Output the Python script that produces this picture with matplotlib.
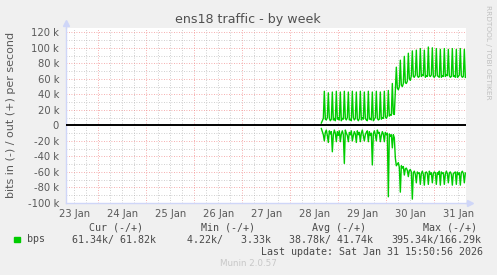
import matplotlib
matplotlib.use("Agg")
import matplotlib.pyplot as plt
import matplotlib.dates as mdates
from matplotlib.ticker import MultipleLocator, FuncFormatter
from matplotlib.patches import Rectangle
import numpy as np
import pandas as pd

# muestras cada 30 min desde 2026-01-28 15:30 (en kbit/s)
inicio = "2026-01-28 15:30"
paso = "30min"

bps_out = [
    3, 6, 9, 44,   8, 7, 10, 42,   9, 6, 8, 43,   7, 9, 6, 44,
    8, 10, 7, 43,  6, 9, 8, 44,    9, 7, 10, 43,  7, 8, 6, 44,
    10, 7, 9, 43,  8, 6, 9, 44,    7, 10, 8, 43,  9, 7, 6, 44,
    8, 9, 7, 43,   6, 8, 10, 44,   9, 7, 8, 43,   8, 10, 9, 44,
    11, 9, 12, 45, 12, 14, 13, 54, 15, 14, 46, 75, 48, 46, 50, 84,
    52, 50, 54, 89, 55, 54, 57, 93, 60, 58, 64, 96, 63, 62, 65, 97,
    64, 62, 63, 99, 63, 65, 64, 97, 62, 64, 63, 101, 64, 63, 65, 100,
    63, 62, 64, 99, 64, 63, 62, 98, 62, 64, 63, 99, 63, 65, 64, 98,
    64, 62, 63, 99, 63, 64, 62, 98, 62, 63, 65, 99, 64, 62, 63, 98,
    61.82,
]

bps_in = [
    4, 8, 12, 20,  9, 6, 13, 22,   7, 11, 8, 34,  12, 6, 10, 21,
    8, 13, 7, 21,  11, 7, 12, 49,  6, 10, 13, 21, 9, 12, 7, 20,
    13, 8, 11, 22, 7, 12, 9, 21,   10, 6, 13, 20, 12, 9, 7, 21,
    8, 13, 10, 51, 11, 7, 12, 20,  6, 10, 9, 21,  13, 8, 11, 21,
    9, 12, 10, 92, 11, 14, 12, 29, 12, 16, 42, 52, 50, 48, 54, 86,
    52, 55, 53, 64, 56, 55, 58, 66, 58, 57, 60, 95, 61, 59, 63, 74,
    60, 62, 61, 76, 62, 59, 63, 77, 61, 60, 62, 76, 59, 63, 61, 74,
    62, 60, 61, 76, 61, 63, 59, 77, 60, 62, 61, 76, 63, 59, 62, 74,
    61, 60, 63, 77, 62, 61, 60, 76, 60, 63, 61, 77, 61, 59, 62, 74,
    61.34,
]

leyenda_cab = ["Cur (-/+)", "Min (-/+)", "Avg (-/+)", "Max (-/+)"]
leyenda_val = ["61.34k/ 61.82k", "4.22k/   3.33k", "38.78k/ 41.74k", "395.34k/166.29k"]

W, H = 497, 275
verde = "#00CC00"
gris_txt = "#5A5A5A"
eje = "#CFD6F8"

fig = plt.figure(figsize=(W / 100, H / 100), dpi=100, facecolor="#F0F0F0")
ax = fig.add_axes([66 / W, 1 - 203 / H, 400 / W, 175 / H])
ax.set_facecolor("white")

t = pd.date_range(inicio, periods=len(bps_out), freq=paso)
ax.plot(t, np.array(bps_out) * 1000, color=verde, lw=1.0, zorder=3)
ax.plot(t, -np.array(bps_in) * 1000, color=verde, lw=1.0, zorder=3)
ax.axhline(0, color="black", lw=1.4, zorder=4)

ax.set_xlim(pd.Timestamp("2026-01-23 07:50"), pd.Timestamp("2026-01-31 15:50"))
ax.set_ylim(-100000, 125500)

# rejilla
ax.xaxis.set_major_locator(mdates.DayLocator())
ax.xaxis.set_major_formatter(FuncFormatter(lambda v, p: ""))
ax.xaxis.set_minor_locator(mdates.HourLocator(byhour=[0, 6, 12, 18]))

def etiqueta_dia(v, p):
    d = mdates.num2date(v)
    return d.strftime("%d %b") if d.hour == 12 else ""

ax.xaxis.set_minor_formatter(FuncFormatter(etiqueta_dia))
ax.yaxis.set_major_locator(MultipleLocator(20000))
ax.yaxis.set_minor_locator(MultipleLocator(10000))
ax.yaxis.set_major_formatter(FuncFormatter(lambda v, p: "0" if v == 0 else f"{v/1000:.0f} k"))

ax.set_axisbelow(True)
ax.grid(which="major", color="#F08080", alpha=0.85, ls=(0, (1, 2)), lw=0.6)
ax.grid(which="minor", color="#B0B0B0", alpha=0.8, ls=(0, (1, 2)), lw=0.6)

ax.tick_params(which="both", length=0, colors=gris_txt, labelsize=7.2)
ax.tick_params(axis="y", pad=5)
ax.tick_params(axis="x", which="minor", pad=4)

for s in ["top", "right"]:
    ax.spines[s].set_visible(False)
for s in ["left", "bottom"]:
    ax.spines[s].set_color(eje)
    ax.spines[s].set_linewidth(1)

# flechas de los ejes
ax.plot([0, 0], [1, 1.025], color=eje, lw=1, transform=ax.transAxes, clip_on=False)
ax.plot([0], [1.03], marker="^", ms=4, color=eje, transform=ax.transAxes, clip_on=False)
ax.plot([1, 1.008], [0, 0], color=eje, lw=1, transform=ax.transAxes, clip_on=False)
ax.plot([1.01], [0], marker=">", ms=4, color=eje, transform=ax.transAxes, clip_on=False)

# textos
fig.text(248 / W, 1 - 19 / H, "ens18 traffic - by week", ha="center", va="center",
         fontsize=9.1, color="#505050")
fig.text(11 / W, 1 - 115 / H, "bits in (-) / out (+) per second", rotation=90,
         ha="center", va="center", fontsize=8.0, color=gris_txt)
fig.text(488 / W, 1 - 5 / H, "RRDTOOL / TOBI OETIKER", rotation=270, ha="center", va="top",
         fontsize=5.3, color="#C0C0C0")

mono = "DejaVu Sans Mono"
leg_col = "#4A4A4A"
for x, s in zip([89, 201, 312, 423], leyenda_cab):
    fig.text(x / W, 1 - 228 / H, s, family=mono, fontsize=7.2, color=leg_col, va="center")
fig.add_artist(Rectangle((14 / W, 1 - 242 / H), 5.5 / W, 5.5 / H, transform=fig.transFigure,
                         color=verde))
fig.text(27 / W, 1 - 239.5 / H, "bps", family=mono, fontsize=7.2, color=leg_col, va="center")
for x, s in zip([72, 187, 289, 391], leyenda_val):
    fig.text(x / W, 1 - 239.5 / H, s, family=mono, fontsize=7.2, color=leg_col, va="center")
fig.text(483 / W, 1 - 252 / H, "Last update: Sat Jan 31 15:50:56 2026", family=mono,
         fontsize=7.2, color=leg_col, va="center", ha="right")
fig.text(248 / W, 1 - 264 / H, "Munin 2.0.57", fontsize=6.3, color="#C8C8C8",
         va="center", ha="center")

fig.savefig("out.png", dpi=100, facecolor=fig.get_facecolor())
